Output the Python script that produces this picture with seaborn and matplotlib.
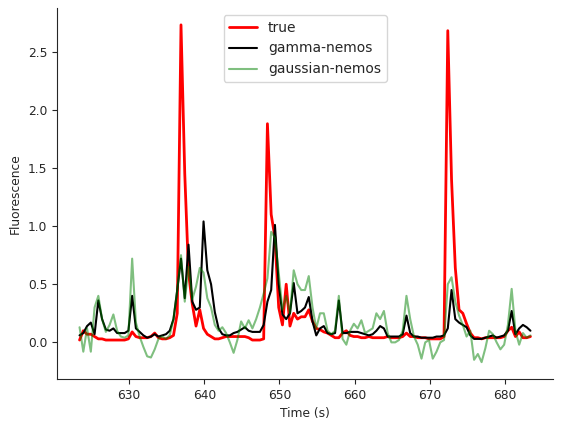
import numpy as np
import pandas as pd
import seaborn as sns
import matplotlib
matplotlib.use("Agg")
import matplotlib.pyplot as plt

# sampling clock: 0.5 s steps starting at 623.4 s (121 samples)
t_start = 623.4
t_step = 0.5

true_vals = [
    0.02, 0.10, 0.07, 0.07, 0.05, 0.03, 0.03, 0.02, 0.02, 0.02,
    0.02, 0.02, 0.02, 0.03, 0.09, 0.05, 0.04, 0.04, 0.04, 0.05,
    0.08, 0.04, 0.03, 0.03, 0.04, 0.06, 0.25, 2.73, 1.45, 0.60,
    0.33, 0.14, 0.28, 0.12, 0.07, 0.05, 0.03, 0.03, 0.04, 0.05,
    0.05, 0.05, 0.05, 0.05, 0.05, 0.04, 0.02, 0.02, 0.02, 0.03,
    1.88, 1.10, 0.90, 0.30, 0.15, 0.50, 0.14, 0.25, 0.20, 0.22,
    0.22, 0.28, 0.18, 0.12, 0.11, 0.09, 0.08, 0.06, 0.04, 0.04,
    0.08, 0.10, 0.06, 0.05, 0.05, 0.04, 0.04, 0.05, 0.04, 0.04,
    0.04, 0.04, 0.05, 0.04, 0.04, 0.04, 0.05, 0.08, 0.05, 0.05,
    0.04, 0.04, 0.04, 0.03, 0.03, 0.03, 0.03, 0.05, 2.68, 1.40,
    0.64, 0.28, 0.25, 0.16, 0.08, 0.04, 0.04, 0.03, 0.04, 0.04,
    0.04, 0.04, 0.04, 0.05, 0.10, 0.13, 0.05, 0.09, 0.04, 0.04,
    0.05,
]

gamma_vals = [
    0.06, 0.08, 0.14, 0.17, 0.07, 0.36, 0.20, 0.11, 0.10, 0.12,
    0.08, 0.08, 0.08, 0.10, 0.40, 0.12, 0.09, 0.06, 0.04, 0.05,
    0.07, 0.05, 0.06, 0.07, 0.10, 0.20, 0.45, 0.72, 0.38, 0.84,
    0.35, 0.28, 0.30, 1.04, 0.62, 0.50, 0.26, 0.12, 0.07, 0.06,
    0.06, 0.08, 0.09, 0.11, 0.13, 0.10, 0.09, 0.09, 0.09, 0.15,
    0.35, 0.45, 1.01, 0.50, 0.24, 0.20, 0.25, 0.51, 0.25, 0.27,
    0.30, 0.39, 0.18, 0.06, 0.12, 0.14, 0.08, 0.07, 0.08, 0.36,
    0.08, 0.08, 0.09, 0.09, 0.09, 0.08, 0.07, 0.06, 0.07, 0.10,
    0.14, 0.12, 0.05, 0.05, 0.05, 0.05, 0.07, 0.23, 0.08, 0.05,
    0.05, 0.04, 0.04, 0.04, 0.04, 0.05, 0.05, 0.06, 0.12, 0.45,
    0.20, 0.17, 0.15, 0.13, 0.06, 0.03, 0.03, 0.03, 0.04, 0.05,
    0.06, 0.04, 0.05, 0.06, 0.10, 0.27, 0.07, 0.12, 0.15, 0.13,
    0.10,
]

gaussian_vals = [
    0.13, -0.08, 0.12, -0.08, 0.30, 0.40, 0.20, 0.09, 0.15, 0.24,
    0.10, 0.05, 0.04, 0.06, 0.72, 0.17, 0.05, -0.04, -0.12, -0.13,
    -0.06, 0.03, 0.05, 0.03, 0.06, 0.20, 0.45, 0.75, 0.35, 0.65,
    0.37, 0.48, 0.64, 0.60, 0.38, 0.30, 0.15, 0.10, 0.13, 0.08,
    0.00, -0.09, 0.02, 0.18, 0.12, 0.19, 0.12, 0.20, 0.30, 0.42,
    0.55, 0.95, 0.90, 0.60, 0.28, 0.40, 0.25, 0.62, 0.50, 0.45,
    0.45, 0.57, 0.30, 0.12, 0.25, 0.25, 0.10, 0.07, 0.10, 0.40,
    0.03, -0.02, 0.10, 0.16, 0.12, 0.19, 0.08, 0.10, 0.12, 0.25,
    0.20, 0.27, 0.08, 0.00, 0.00, 0.02, 0.10, 0.40, 0.20, 0.05,
    -0.02, -0.14, 0.00, 0.02, -0.14, -0.08, 0.00, 0.02, 0.50, 0.56,
    0.35, 0.23, 0.15, 0.05, 0.10, -0.15, -0.10, -0.17, -0.05, 0.10,
    0.07, 0.00, -0.06, -0.02, 0.15, 0.46, 0.10, -0.02, 0.08, 0.04,
    0.06,
]

time_s = t_start + t_step * np.arange(len(true_vals))
df = pd.DataFrame({
    "time": time_s,
    "true": true_vals,
    "gamma": gamma_vals,
    "gaussian": gaussian_vals,
})

sns.set_style("ticks")
plt.rcParams["font.family"] = ["DejaVu Sans"]

fig = plt.figure(figsize=(5.62, 4.30), dpi=100)
ax = fig.add_axes([57 / 562, 51 / 430, 496 / 562, 371 / 430])

sns.lineplot(data=df, x="time", y="true", ax=ax, color="r", linewidth=2, label="true")
sns.lineplot(data=df, x="time", y="gamma", ax=ax, color="k", linewidth=1.5, label="gamma-nemos")
sns.lineplot(data=df, x="time", y="gaussian", ax=ax, color="g", alpha=0.5, linewidth=1.5,
             label="gaussian-nemos")

ax.set_xlabel("Time (s)", fontsize=8.8)
ax.set_ylabel("Fluorescence", fontsize=8.8)
ax.tick_params(labelsize=8.8)
ax.legend(loc="upper center", fontsize=10)
sns.despine(ax=ax)

fig.savefig("out.png", dpi=100)
